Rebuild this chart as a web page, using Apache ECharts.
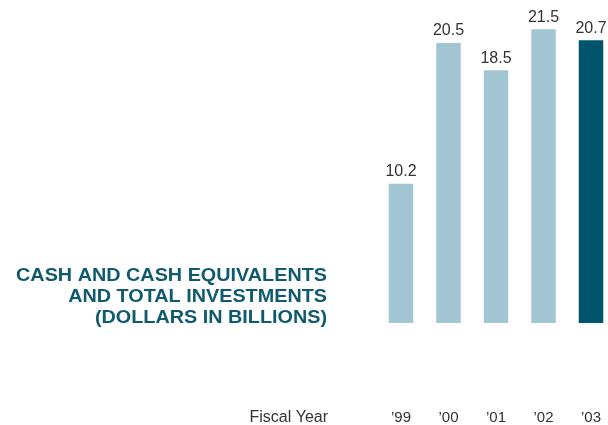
<!DOCTYPE html>
<html>
<head>
<meta charset="utf-8">
<script src="https://cdn.jsdelivr.net/npm/echarts@6/dist/echarts.min.js"></script>
<style>
  html, body { margin: 0; padding: 0; background: #ffffff; }
  #chart { width: 608px; height: 425px; }
</style>
</head>
<body>
<div id="chart"></div>
<script>
// Fiscal years and cash + investments balances (billions of dollars)
const years = ['\u201999', '\u201900', '\u201901', '\u201902', '\u201903'];
const balances = [10.2, 20.5, 18.5, 21.5, 20.7];
const titleLines = [
  'CASH AND CASH EQUIVALENTS',
  'AND TOTAL INVESTMENTS',
  '(DOLLARS IN BILLIONS)'
];
const axisName = 'Fiscal Year';

const lightBar = '#a2c5d4';
const darkBar = '#00546b';
const titleColor = '#0f5a6e';
const font = '"Liberation Sans", Arial, Helvetica, sans-serif';

const chart = echarts.init(document.getElementById('chart'), null, { renderer: 'canvas' });

// Right-aligned, slightly widened heading block to the left of the bars
const titleRight = 327;
const titleGraphics = titleLines.map((line, i) => ({
  type: 'text',
  x: titleRight,
  y: 267 + i * 21,
  scaleX: 1.1,
  originX: 0,
  style: {
    text: line,
    align: 'right',
    verticalAlign: 'top',
    fill: titleColor,
    font: 'bold 18px ' + font
  }
}));

chart.setOption({
  animation: false,
  grid: { left: 401, right: 17, top: 22.5, bottom: 101.3, containLabel: false },
  xAxis: {
    type: 'category',
    data: years,
    boundaryGap: false,
    axisLine: { show: false },
    axisTick: { show: false },
    axisLabel: {
      margin: 87,
      color: '#333333',
      fontFamily: font,
      fontSize: 15
    }
  },
  yAxis: {
    type: 'value',
    min: 0,
    max: 22,
    show: false,
    splitLine: { show: false }
  },
  series: [{
    type: 'bar',
    barWidth: 24.5,
    data: balances.map((v, i) => ({
      value: v,
      itemStyle: { color: i === balances.length - 1 ? darkBar : lightBar }
    })),
    label: {
      show: true,
      position: 'top',
      distance: 4,
      color: '#333333',
      fontFamily: font,
      fontSize: 16,
      formatter: p => p.value.toFixed(1)
    }
  }],
  graphic: titleGraphics.concat([
    {
      type: 'text',
      x: 328,
      y: 410,
      style: {
        text: axisName,
        align: 'right',
        verticalAlign: 'top',
        fill: '#333333',
        font: '16px ' + font
      }
    }
  ])
});
</script>
</body>
</html>
